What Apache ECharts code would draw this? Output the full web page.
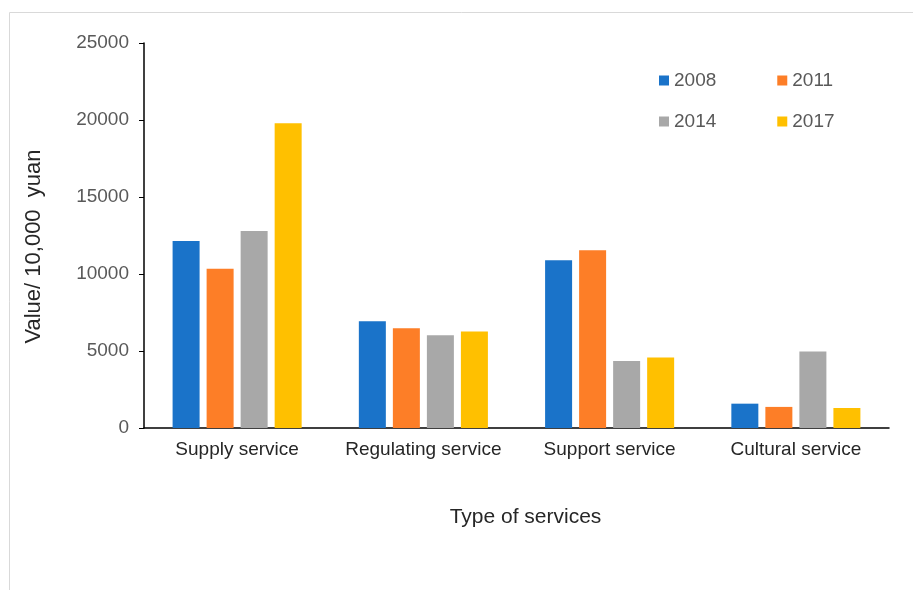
<!DOCTYPE html>
<html><head><meta charset="utf-8">
<script src="https://cdn.jsdelivr.net/npm/echarts@6/dist/echarts.min.js"></script>
<style>html,body{margin:0;padding:0;background:#fff}#c{width:913px;height:590px}</style>
</head><body><div id="c"></div>
<script>
const categories = ['Supply service', 'Regulating service', 'Support service', 'Cultural service'];
const years = ['2008', '2011', '2014', '2017'];
const values2008 = [12150, 6930, 10890, 1580];
const values2011 = [10340, 6470, 11540, 1370];
const values2014 = [12790, 6020, 4350, 4960];
const values2017 = [19790, 6260, 4570, 1300];
const colors = ['#1A73C9', '#FD7E27', '#A8A8A8', '#FFC000'];
const yTicks = [0, 5000, 10000, 15000, 20000, 25000];

const allValues = [values2008, values2011, values2014, values2017];
const font = 'Liberation Sans';
const legendText = { fontSize: 19, color: '#595959', fontFamily: font };
const chart = echarts.init(document.getElementById('c'));
chart.setOption({
  animation: false,
  textStyle: { fontFamily: font },
  graphic: [{ type: 'rect', shape: { x: 9.5, y: 12.5, width: 920, height: 600 }, style: { fill: 'none', stroke: '#d9d9d9', lineWidth: 1 }, z: -1 }],
  grid: { left: 144, right: 24, top: 43, bottom: 162 },
  legend: [
    { data: ['2008', '2011'], left: 654, top: 66, itemWidth: 10, itemHeight: 10, itemGap: 61, icon: 'rect', textStyle: legendText },
    { data: ['2014', '2017'], left: 654, top: 107, itemWidth: 10, itemHeight: 10, itemGap: 61, icon: 'rect', textStyle: legendText }
  ],
  xAxis: {
    type: 'category', data: categories,
    name: 'Type of services', nameLocation: 'middle', nameGap: 79,
    nameTextStyle: { fontSize: 21, color: '#262626', fontFamily: font, padding: [0, 0, 0, 18] },
    axisLine: { lineStyle: { color: '#000', width: 1.5 } },
    axisTick: { show: false },
    axisLabel: { fontSize: 19, color: '#262626', margin: 12, fontFamily: font, interval: 0 }
  },
  yAxis: {
    type: 'value', min: 0, max: 25000, interval: 5000,
    name: 'Value/ 10,000  yuan', nameLocation: 'middle', nameGap: 99, nameRotate: 90,
    nameTextStyle: { fontSize: 22, color: '#262626', fontFamily: font, padding: [0, 22, 0, 0] },
    axisLine: { show: true, lineStyle: { color: '#000', width: 1.5 } },
    axisTick: { show: true, length: 5, lineStyle: { color: '#000' } },
    splitLine: { show: false },
    axisLabel: { fontSize: 19, color: '#595959', margin: 15, fontFamily: font,
      formatter: v => yTicks.includes(v) ? String(v) : '' }
  },
  series: years.map((y, i) => ({
    name: y, type: 'bar', data: allValues[i],
    barWidth: 27, barGap: '26%', barCategoryGap: '31%',
    itemStyle: { color: colors[i] }
  }))
});
</script></body></html>
